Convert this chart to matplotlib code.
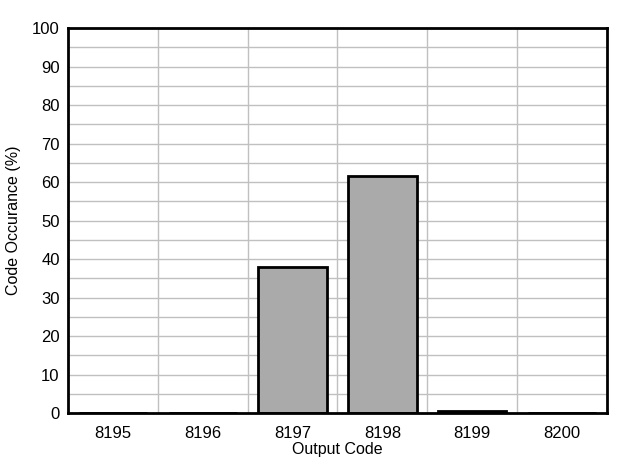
import matplotlib
matplotlib.use("Agg")
import matplotlib.pyplot as plt
import numpy as np

categories = ["8195", "8196", "8197", "8198", "8199", "8200"]
occurrence = [0.0, 0.0, 38.0, 61.6, 0.4, 0.0]

plt.rcParams['font.family'] = ['Liberation Sans', 'DejaVu Sans']

fig = plt.figure(figsize=(6.26, 4.69), dpi=100)
ax = fig.add_axes([0.1086, 0.1194, 0.9696 - 0.1086, 0.940 - 0.1194])

x = np.arange(len(categories))
ax.bar(x, occurrence, width=0.76, color='#aaaaaa', edgecolor='black', linewidth=2, zorder=3)

ax.set_xlim(-0.5, len(categories) - 0.5)
ax.set_ylim(0, 100)
ax.set_yticks(np.arange(0, 101, 10))
ax.set_yticks(np.arange(5, 100, 10), minor=True)
ax.set_xticks(x)
ax.set_xticklabels(categories)
ax.set_xticks(np.arange(0.5, len(categories) - 0.5, 1), minor=True)

ax.grid(which='major', axis='y', color='#c0c0c0', linewidth=1, zorder=0)
ax.grid(which='minor', axis='both', color='#c0c0c0', linewidth=1, zorder=0)
ax.tick_params(which='both', length=0, labelsize=12)
ax.tick_params(axis='x', pad=9)
ax.tick_params(axis='y', pad=6)

for s in ax.spines.values():
    s.set_linewidth(2)
    s.set_color('black')
    s.set_zorder(4)

ax.set_xlabel("Output Code", fontsize=11.5, labelpad=1)
ax.set_ylabel("Code Occurance (%)", fontsize=11.5, labelpad=8)

fig.savefig("out.png", dpi=100)
